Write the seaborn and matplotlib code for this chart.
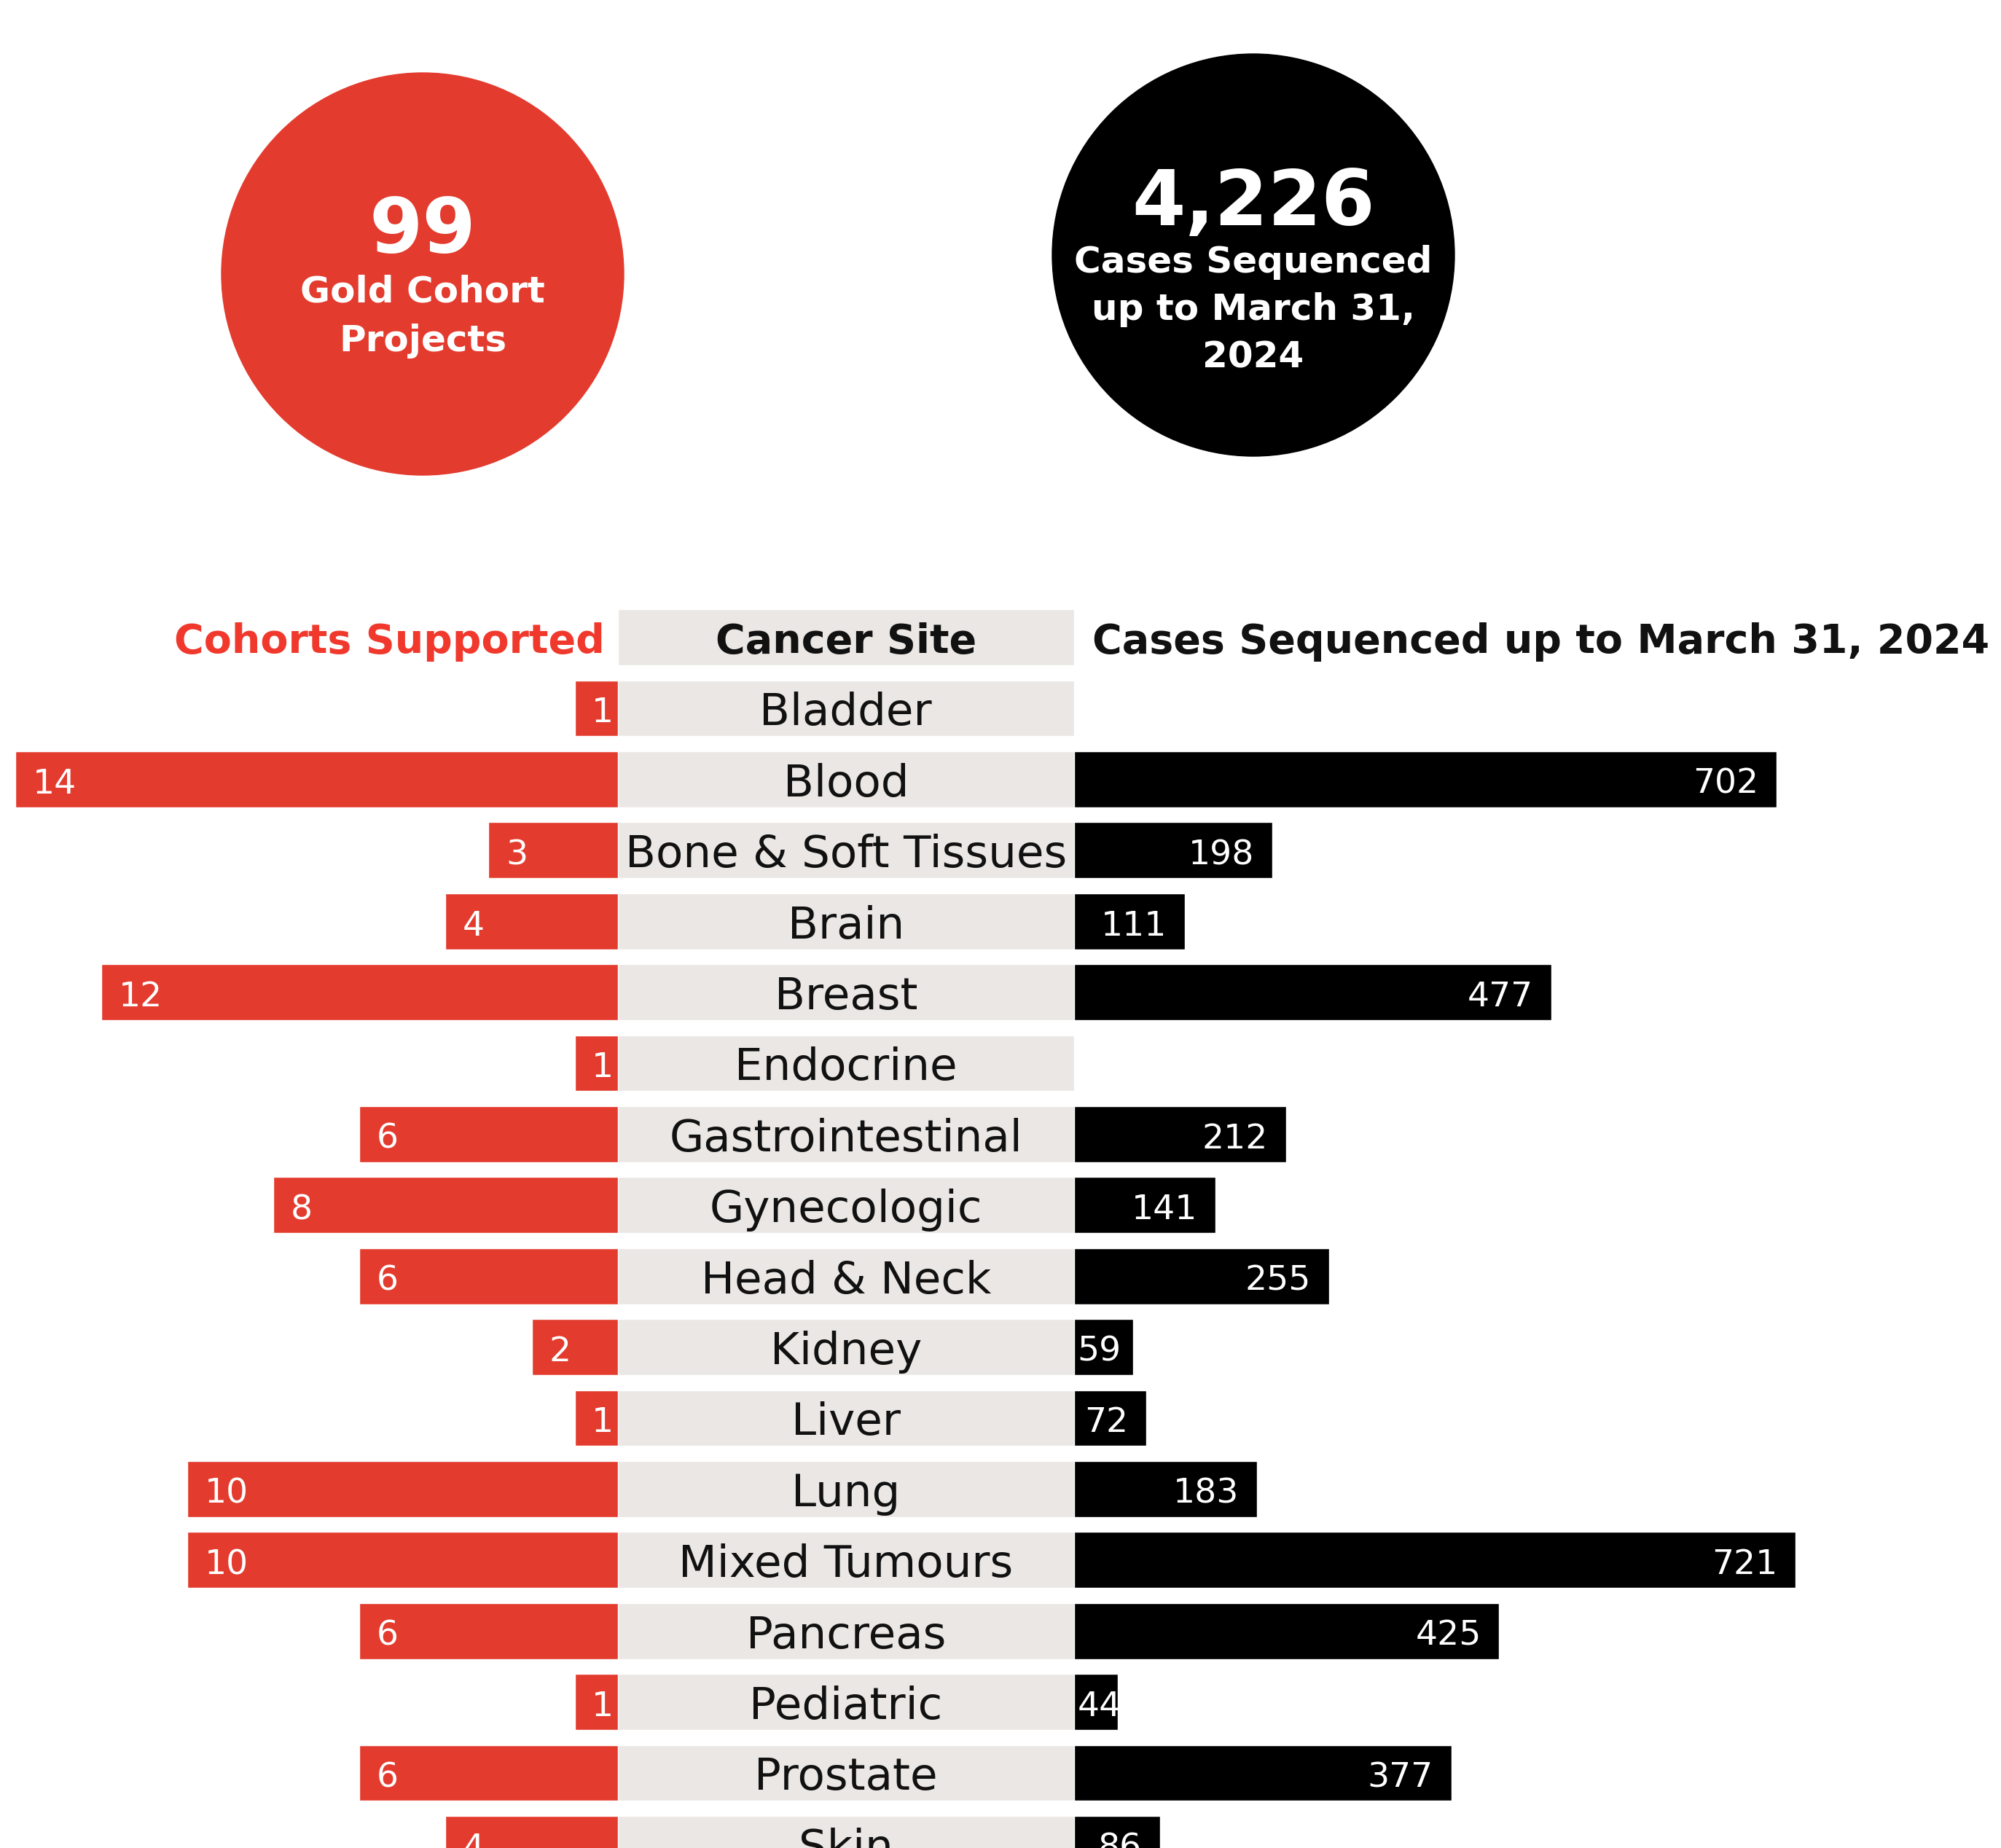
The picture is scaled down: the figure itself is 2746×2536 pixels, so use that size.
import numpy as np
import pandas as pd
import matplotlib
matplotlib.use("Agg")
import matplotlib.pyplot as plt
import seaborn as sns
from matplotlib.patches import Circle

# datos
sites = ["Bladder", "Blood", "Bone & Soft Tissues", "Brain", "Breast", "Endocrine",
         "Gastrointestinal", "Gynecologic", "Head & Neck", "Kidney", "Liver", "Lung",
         "Mixed Tumours", "Pancreas", "Pediatric", "Prostate", "Skin"]
cohorts = [1, 14, 3, 4, 12, 1, 6, 8, 6, 2, 1, 10, 10, 6, 1, 6, 4]
cases = [None, 702, 198, 111, 477, None, 212, 141, 255, 59, 72, 183, 721, 425, 44, 377, 86]
total_projects = "99"
total_cases = "4,226"
cases_date = "March 31, 2024"

RED = "#E33B2E"
RED_TXT = "#F0392C"
GRAY = "#EAE7E4"
FONT = "DejaVu Sans"

df = pd.DataFrame({"site": sites, "cohorts": cohorts,
                   "cases": pd.to_numeric(pd.Series(cases, dtype="float"))})
df["cases_plot"] = df["cases"].fillna(0)

sns.set_style("white")
plt.rcParams["font.family"] = [FONT]

W, H = 2746, 2536
fig = plt.figure(figsize=(W / 100, H / 100), dpi=100)
fig.patch.set_facecolor("white")

# filas: centro de la primera fila y separación en px
row0, step = 972, 97.4
ylim = ((H - row0) / step, -row0 / step)
bw = 0.79
dy = 0.07  # bajar un poco el texto

x_red, x_mid = 847.6, 1474
ax_red = fig.add_axes([0, 0, x_red / W, 1])
ax_mid = fig.add_axes([x_red / W, 0, (x_mid - x_red) / W, 1])
ax_blk = fig.add_axes([x_mid / W, 0, (W - x_mid) / W, 1])

# barras rojas (cohortes)
sns.barplot(data=df, x="cohorts", y="site", orient="h", color=RED,
            width=bw, saturation=1, ax=ax_red)
ax_red.set_xlim(x_red / 59.04, 0)
for i, v in enumerate(df["cohorts"]):
    ax_red.text(v - 0.4, i + dy, str(v), color="white", fontsize=34,
                ha="left", va="center")

# cajas grises (sitio)
sns.barplot(x=[1] * len(sites), y=sites, orient="h", color=GRAY,
            width=bw, saturation=1, ax=ax_mid)
ax_mid.barh(-1, 1, height=bw, color=GRAY)
ax_mid.set_xlim(0, 1)
for i, s in enumerate(sites):
    ax_mid.text(0.5, i + dy, s, fontsize=44, ha="center", va="center",
                color="#111111")
ax_mid.text(0.5, -1 + dy, "Cancer Site", fontsize=40, ha="center", va="center",
            color="#111111", fontweight="bold")

# barras negras (casos)
sns.barplot(data=df, x="cases_plot", y="site", orient="h", color="black",
            width=bw, saturation=1, ax=ax_blk)
ax_blk.set_xlim(0, (W - x_mid) / 1.3727)
for i, v in enumerate(df["cases"]):
    if pd.isna(v):
        continue
    ax_blk.text(max(v - 18, 47), i + dy, str(int(v)), color="white", fontsize=34,
                ha="right", va="center")

ax_red.text(0.3, -1 + dy, "Cohorts Supported", fontsize=40, ha="right", va="center",
            color=RED_TXT, fontweight="bold")
ax_blk.text(18, -1 + dy, "Cases Sequenced up to " + cases_date, fontsize=40,
            ha="left", va="center", color="#111111", fontweight="bold")

for ax in (ax_red, ax_mid, ax_blk):
    ax.set_ylim(*ylim)
    ax.set_facecolor("none")
    ax.axis("off")

# círculos superiores
ax_top = fig.add_axes([0, 0, 1, 1], zorder=-1)
ax_top.set_xlim(0, W)
ax_top.set_ylim(H, 0)
ax_top.axis("off")
ax_top.add_patch(Circle((580, 376), 276, color=RED))
ax_top.add_patch(Circle((1720, 350), 276, color="black"))
ax_top.text(580, 318, total_projects, fontsize=76, fontweight="bold", color="white",
            ha="center", va="center")
ax_top.text(580, 434, "Gold Cohort\nProjects", fontsize=36, fontweight="bold",
            color="white", ha="center", va="center", linespacing=1.5)
ax_top.text(1720, 280, total_cases, fontsize=76, fontweight="bold", color="white",
            ha="center", va="center")
ax_top.text(1720, 425, "Cases Sequenced\nup to March 31,\n2024", fontsize=36,
            fontweight="bold", color="white", ha="center", va="center",
            linespacing=1.45)

fig.savefig("out.png", dpi=100)
